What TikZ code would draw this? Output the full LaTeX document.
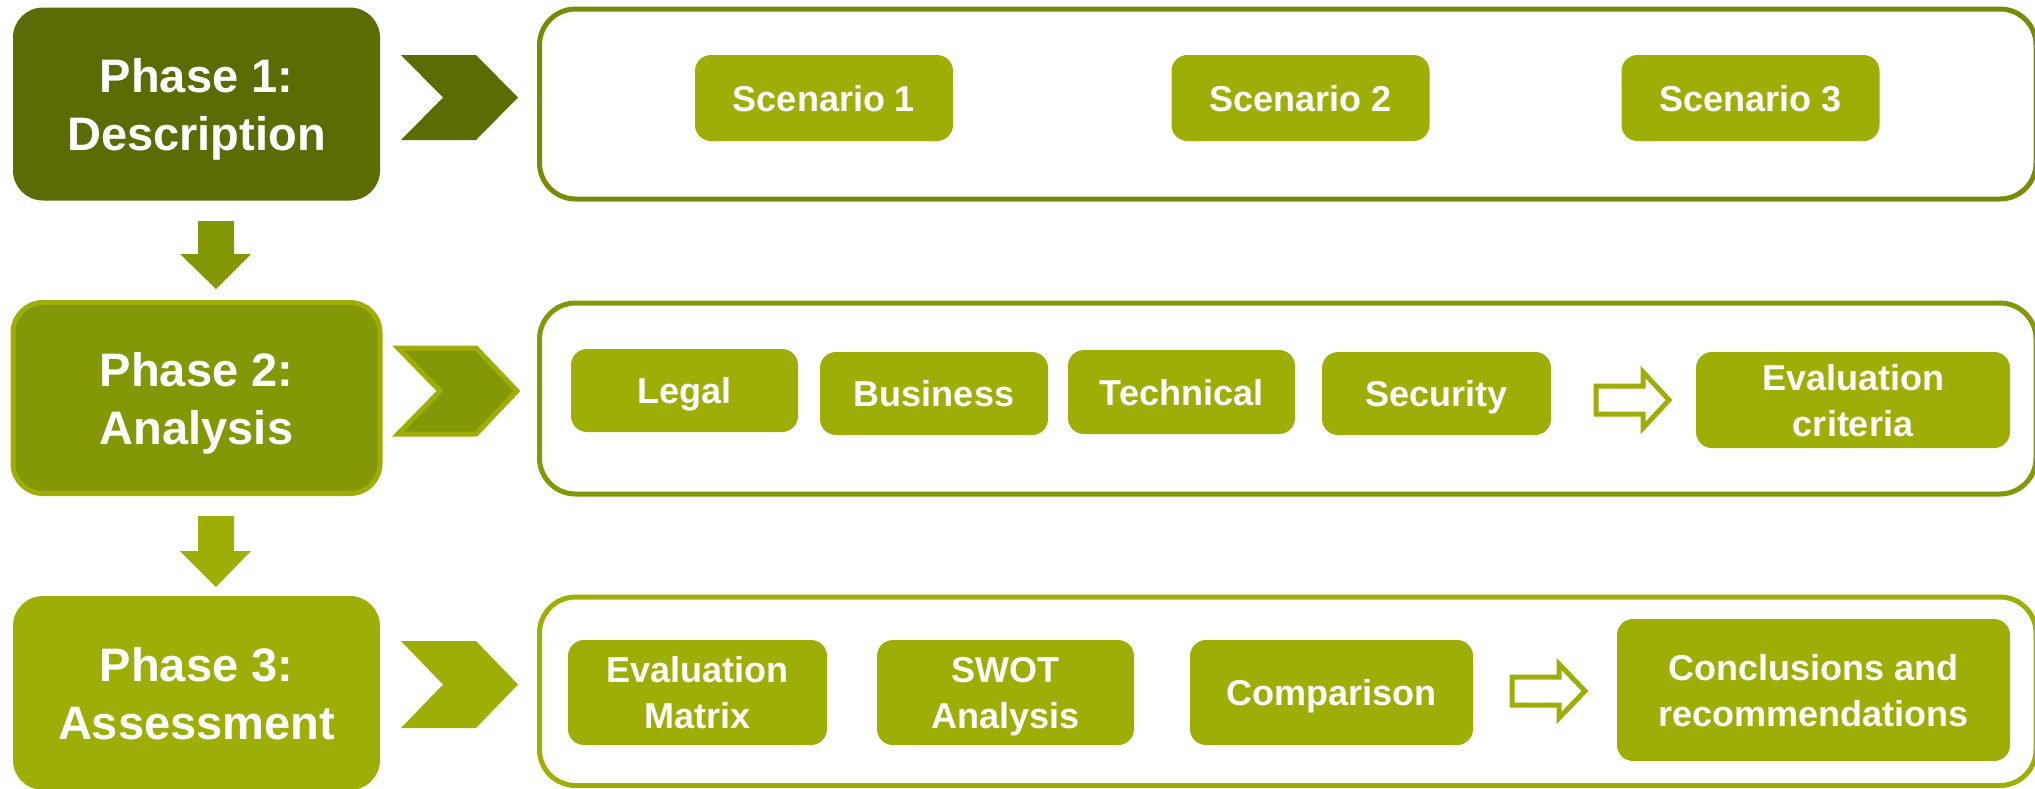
\documentclass[tikz,border=0pt]{standalone}
\usepackage{fontspec}
\setmainfont{Liberation Sans}
\definecolor{darkol}{HTML}{5C6B04}
\definecolor{midol}{HTML}{849706}
\definecolor{lightol}{HTML}{9DAF06}
\definecolor{contone}{HTML}{7A8A04}
\begin{document}
\begin{tikzpicture}[x=1pt,y=-1pt,
  phasebox/.style={rounded corners=30pt, text=white, align=center, inner sep=0pt,
    text depth=-7pt, font=\bfseries\fontsize{47}{58}\selectfont},
  itembox/.style={rounded corners=16pt, fill=lightol, text=white, align=center, inner sep=0pt,
    text depth=0pt, font=\bfseries\fontsize{36}{46}\selectfont},
  container/.style={rounded corners=36pt, line width=5pt, fill=white},
  hollow/.style={draw=lightol, line width=5pt, fill=white, line join=miter}]
\useasboundingbox (0,0) rectangle (2035,788);
% phase boxes
\node[phasebox, fill=darkol, minimum width=367pt, minimum height=193pt] (p1) at (196.5,104) {Phase 1:\\Description};
\node[phasebox, fill=midol, draw=lightol, line width=5pt, minimum width=367pt, minimum height=191pt] (p2) at (196.5,398) {Phase 2:\\Analysis};
\node[phasebox, fill=lightol, minimum width=367pt, minimum height=194pt] (p3) at (196.5,693) {Phase 3:\\Assessment};
% down arrows
\fill[midol] (198,221) -- (234,221) -- (234,254) -- (251,254) -- (216,289) -- (180,254) -- (198,254) -- cycle;
\fill[lightol] (198,516) -- (234,516) -- (234,551) -- (251,551) -- (216,587) -- (180,551) -- (198,551) -- cycle;
% chevrons
\fill[darkol] (401,55) -- (476,55) -- (518,97.5) -- (476,140) -- (401,140) -- (443,97.5) -- cycle;
\filldraw[fill=midol, draw=lightol, line width=5pt, line join=miter] (398,348) -- (476,348) -- (517,391) -- (476,434) -- (398,434) -- (440,391) -- cycle;
\fill[lightol] (401,641) -- (476,641) -- (518,684.5) -- (476,728) -- (401,728) -- (443,684.5) -- cycle;
% containers
\draw[container, draw=contone] (539.5,9) rectangle (2036,199);
\draw[container, draw=midol] (539.5,303) rectangle (2036,494);
\draw[container, draw=lightol] (539.5,597) rectangle (2036,785.5);
% row 1
\node[itembox, minimum width=258pt, minimum height=86pt] (s1) at (824,98) {Scenario 1};
\node[itembox, minimum width=258pt, minimum height=86pt] (s2) at (1300.5,98) {Scenario 2};
\node[itembox, minimum width=258pt, minimum height=86pt] (s3) at (1750.5,98) {Scenario 3};
% row 2
\node[itembox, minimum width=227pt, minimum height=83pt] (legal) at (684.5,390.5) {Legal};
\node[itembox, minimum width=228pt, minimum height=83pt] (bus) at (934,393.5) {Business};
\node[itembox, minimum width=227pt, minimum height=84pt] (tech) at (1181.5,392) {Technical};
\node[itembox, minimum width=229pt, minimum height=83pt] (sec) at (1436.5,393.5) {Security};
\node[itembox, minimum width=314pt, minimum height=96pt] (evc) at (1853,400) {Evaluation\\criteria};
\filldraw[hollow] (1596,386) -- (1643,386) -- (1643,372) -- (1669,400) -- (1643,428) -- (1643,414) -- (1596,414) -- cycle;
% row 3
\node[itembox, minimum width=259pt, minimum height=105pt] (em) at (697.5,692.5) {Evaluation\\Matrix};
\node[itembox, minimum width=257pt, minimum height=105pt] (swot) at (1005.5,692.5) {SWOT\\Analysis};
\node[itembox, minimum width=283pt, minimum height=105pt] (comp) at (1331.5,692.5) {Comparison};
\node[itembox, minimum width=393pt, minimum height=142pt] (concl) at (1813.5,690) {Conclusions and\\recommendations};
\filldraw[hollow] (1512,677) -- (1559,677) -- (1559,664) -- (1585,691) -- (1559,718) -- (1559,705) -- (1512,705) -- cycle;
\end{tikzpicture}
\end{document}
